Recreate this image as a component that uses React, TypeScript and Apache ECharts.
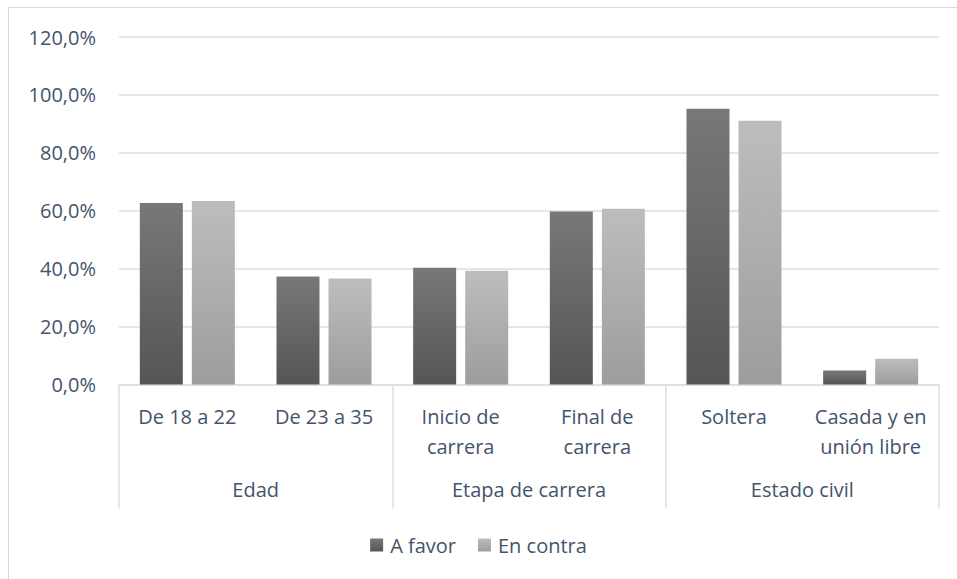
import React, { useEffect, useRef } from "react";
import * as echarts from "echarts";

const subCategories = [
  "De 18 a 22",
  "De 23 a 35",
  "Inicio de\ncarrera",
  "Final de\ncarrera",
  "Soltera",
  "Casada y en\nunión libre",
];
const groupCategories = ["Edad", "Etapa de carrera", "Estado civil"];
const seriesNames = ["A favor", "En contra"];
const aFavor = [62.7, 37.3, 40.3, 59.7, 95.2, 4.8];
const enContra = [63.4, 36.6, 39.3, 60.7, 91.1, 8.9];
const yTicks = { min: 0, max: 120, interval: 20 };

const TEXT = "#44546a";
const LINE = "#dadfe7";
const FONT = "Open Sans";

export default function App() {
  const ref = useRef<HTMLDivElement>(null);
  useEffect(() => {
    document.body.style.margin = "0";
    if (!ref.current) return;
    const chart = echarts.init(ref.current, null, { renderer: "svg" });
    const darkGrad = new echarts.graphic.LinearGradient(0, 0, 0, 1, [
      { offset: 0, color: "#787878" },
      { offset: 1, color: "#555555" },
    ]);
    const lightGrad = new echarts.graphic.LinearGradient(0, 0, 0, 1, [
      { offset: 0, color: "#bdbdbd" },
      { offset: 1, color: "#9d9d9d" },
    ]);
    chart.setOption({
      animation: false,
      backgroundColor: "#ffffff",
      textStyle: { fontFamily: FONT, color: TEXT },
      graphic: [
        {
          type: "rect",
          shape: { x: 8.5, y: 7.5, width: 1000, height: 700 },
          style: { fill: "none", stroke: "#d9d9d9", lineWidth: 1 },
          silent: true,
          z: -10,
        },
      ],
      grid: { left: 119, right: 18, top: 37, bottom: 194.5 },
      legend: {
        data: seriesNames,
        top: 530,
        left: "center",
        icon: "rect",
        itemWidth: 13,
        itemHeight: 13,
        itemGap: 22,
        textStyle: { fontFamily: FONT, fontSize: 20, color: TEXT, padding: [0, 0, 0, 2] },
      },
      xAxis: [
        {
          type: "category",
          data: subCategories,
          axisLine: { show: true, lineStyle: { color: LINE, width: 1.5 } },
          axisTick: { show: false },
          axisLabel: {
            interval: 0,
            margin: 17,
            fontFamily: FONT,
            fontSize: 20,
            lineHeight: 30,
            color: TEXT,
            align: "center",
          },
        },
        {
          type: "category",
          data: groupCategories,
          position: "bottom",
          axisLine: { show: false },
          axisTick: { show: true, length: 124, lineStyle: { color: LINE, width: 1.5 } },
          axisLabel: {
            interval: 0,
            margin: 95,
            fontFamily: FONT,
            fontSize: 20,
            color: TEXT,
          },
        },
      ],
      yAxis: {
        type: "value",
        min: yTicks.min,
        max: yTicks.max,
        interval: yTicks.interval,
        axisLine: { show: false },
        axisTick: { show: false },
        splitLine: { lineStyle: { color: LINE, width: 1.5 } },
        axisLabel: {
          margin: 23,
          fontFamily: FONT,
          fontSize: 20,
          color: TEXT,
          formatter: (v: number) => v.toFixed(1).replace(".", ",") + "%",
        },
      },
      series: [
        {
          name: seriesNames[0],
          type: "bar",
          data: aFavor,
          barWidth: 43,
          barGap: "21%",
          itemStyle: { color: darkGrad },
        },
        {
          name: seriesNames[1],
          type: "bar",
          data: enContra,
          barWidth: 43,
          barGap: "21%",
          itemStyle: { color: lightGrad },
        },
      ],
    });
    return () => chart.dispose();
  }, []);
  return <div ref={ref} style={{ width: 957, height: 579 }} />;
}
